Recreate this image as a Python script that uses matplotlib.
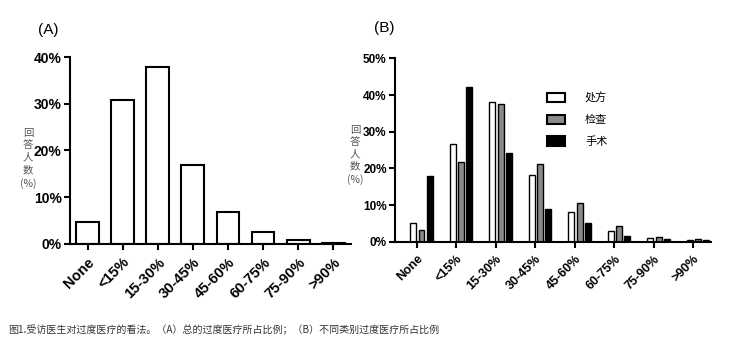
import numpy as np
import matplotlib.pyplot as plt
from matplotlib.patches import Patch

plt.rcParams['font.family'] = ['Liberation Sans', 'Noto Sans CJK SC', 'DejaVu Sans']

categories = ["None", "<15%", "15-30%", "30-45%", "45-60%", "60-75%", "75-90%", ">90%"]

# (A) overall share of respondents, %
overall = [4.6, 30.8, 37.8, 16.8, 6.8, 2.6, 0.8, 0.2]

# (B) by type, %
series_names = ["处方", "检查", "手术"]
prescription = [5.0, 26.8, 38.2, 18.3, 8.0, 2.9, 1.0, 0.45]
examination = [3.3, 21.7, 37.5, 21.2, 10.7, 4.3, 1.3, 0.7]
surgery = [17.9, 42.1, 24.1, 8.9, 5.2, 1.5, 0.7, 0.5]
series_colors = ["white", "#8a8a8a", "black"]

ylabel_txt = "回\n答\n人\n数\n(%)"
caption = "图1.受访医生对过度医疗的看法。（A）总的过度医疗所占比例；（B）不同类别过度医疗所占比例"

fig = plt.figure(figsize=(7.37, 3.52), dpi=100)
x = np.arange(len(categories))
cjk = ["Noto Sans CJK SC", "DejaVu Sans"]


def style_axes(ax, ymax, step, fs_y, fs_x):
    for s in ["top", "right"]:
        ax.spines[s].set_visible(False)
    for s in ["left", "bottom"]:
        ax.spines[s].set_linewidth(1.5)
    ax.set_ylim(0, ymax)
    ax.set_yticks(np.arange(0, ymax + 0.1, step))
    ax.set_yticklabels([f"{int(v)}%" for v in np.arange(0, ymax + 0.1, step)],
                       fontsize=fs_y, fontweight="bold")
    ax.set_xticks(x)
    ax.set_xticklabels(categories, rotation=45, ha="right", rotation_mode="anchor",
                       fontsize=fs_x, fontweight="bold")
    ax.tick_params(axis="both", direction="out", length=4, width=1.5, pad=2)
    ax.tick_params(axis="x", pad=4)


# panel A
ax1 = fig.add_axes([0.095, 0.307, 0.381, 0.531])
ax1.bar(x, overall, width=0.65, color="white", edgecolor="black", linewidth=1.5)
ax1.set_xlim(-0.5, 7.5)
style_axes(ax1, 40, 10, 10, 10.5)

# panel B
ax2 = fig.add_axes([0.536, 0.313, 0.429, 0.521])
offsets = [-0.09, 0.12, 0.33]
for vals, off, col, name in zip([prescription, examination, surgery], offsets,
                                series_colors, series_names):
    ax2.bar(x + off, vals, width=0.15, color=col, edgecolor="black", linewidth=1.0,
            label=name)
ax2.set_xlim(-0.55, 7.45)
style_axes(ax2, 50, 10, 8.5, 9)

handles = [Patch(facecolor=c, edgecolor="black", linewidth=1.5) for c in series_colors]
ax2.legend(handles, series_names, loc="upper left", bbox_to_anchor=(0.45, 0.87),
           frameon=False, fontsize=8, handlelength=1.6, handleheight=0.9,
           handletextpad=1.8, labelspacing=1.0)

# titles and labels
fig.text(0.052, 0.915, "(A)", fontsize=11, va="center")
fig.text(0.507, 0.92, "(B)", fontsize=11, va="center")
fig.text(0.038, 0.55, ylabel_txt, fontsize=7.5, color="#555555", ha="center",
         va="center", linespacing=1.3, family=cjk)
fig.text(0.482, 0.56, ylabel_txt, fontsize=7.5, color="#555555", ha="center",
         va="center", linespacing=1.3, family=cjk)
fig.text(0.011, 0.062, caption, fontsize=7.2, color="#333333", va="center",
         family=cjk)

fig.savefig("out.png", dpi=100)
